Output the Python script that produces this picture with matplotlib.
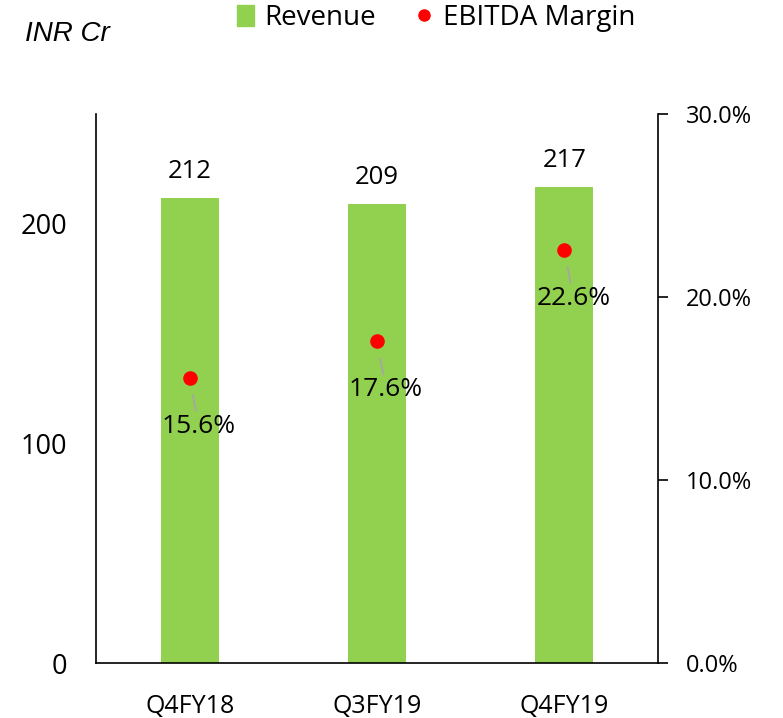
import matplotlib
matplotlib.use("Agg")
import matplotlib.pyplot as plt
from matplotlib.lines import Line2D
from matplotlib.patches import Patch

quarters = ["Q4FY18", "Q3FY19", "Q4FY19"]
revenue = [212, 209, 217]
ebitda_margin = [15.6, 17.6, 22.6]

green = "#92d050"
red = "#ff0000"

plt.rcParams['font.family'] = ['Open Sans', 'DejaVu Sans']

fig = plt.figure(figsize=(7.83, 7.18), dpi=100)
ax = fig.add_axes([0.1226, 0.0766, 0.7178, 0.7644])
ax2 = ax.twinx()

x = list(range(len(quarters)))
bars = ax.bar(x, revenue, width=0.31, color=green, zorder=1)
ax.set_xlim(-0.5, 2.5)
ax.set_ylim(0, 250)
ax.set_yticks([0, 100, 200])
ax.set_xticks(x)
ax.set_xticklabels(quarters)
ax.tick_params(axis='y', length=0, labelsize=19.5, pad=21)
ax.tick_params(axis='x', length=0, labelsize=18, pad=22)
ax.spines['top'].set_visible(False)
ax.spines['right'].set_visible(False)

for xi, v in zip(x, revenue):
    ax.annotate(str(v), (xi, v), xytext=(0, 10), textcoords='offset points',
                ha='center', va='bottom', fontsize=18.5)

margins = [m / 100 for m in ebitda_margin]
ax2.scatter(x, margins, s=90, color=red, zorder=3)
ax2.set_ylim(0, 0.30)
ax2.set_yticks([0, 0.1, 0.2, 0.3])
ax2.set_yticklabels(["0.0%", "10.0%", "20.0%", "30.0%"])
ax2.tick_params(axis='y', length=7, width=1.2, labelsize=17, pad=13)
for s in ['top', 'left', 'bottom']:
    ax2.spines[s].set_visible(False)
ax2.spines['right'].set_linewidth(1.2)
ax.spines['left'].set_linewidth(1.2)
ax.spines['bottom'].set_linewidth(1.2)

for xi, m, m_txt in zip(x, margins, ebitda_margin):
    ax2.annotate(f"{m_txt:.1f}%", (xi, m), xytext=(6.5, -35), textcoords='offset points',
                 ha='center', va='center', fontsize=19,
                 arrowprops=dict(arrowstyle='-', color='#a6a6a6', lw=1.3,
                                 shrinkA=0, shrinkB=13))

handles = [Patch(color=green, label="Revenue"),
           Line2D([], [], marker='o', linestyle='none', color=red, markersize=8,
                  label="EBITDA Margin")]
fig.legend(handles=handles, loc='center', bbox_to_anchor=(0.557, 0.975), ncol=2,
           frameon=False, fontsize=20, handlelength=0.6, handleheight=0.8,
           handletextpad=0.4, columnspacing=1.4)

fig.text(0.032, 0.952, "INR Cr", fontsize=20, style='italic',
         family='Liberation Sans', va='center')

fig.savefig("out.png", dpi=100)
